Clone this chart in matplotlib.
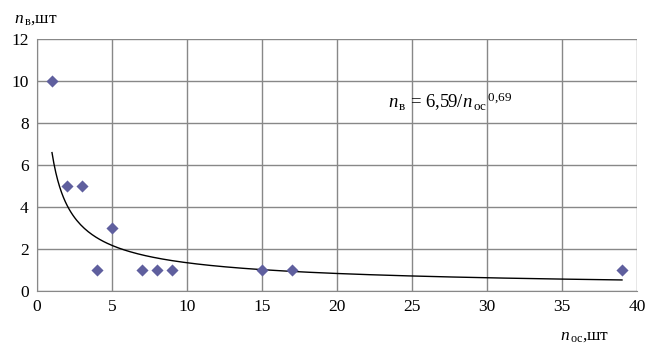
import numpy as np
import matplotlib as mpl
mpl.use('agg')
import matplotlib.pyplot as plt

# observed points
n_os = [1, 2, 3, 4, 5, 7, 8, 9, 15, 17, 39]
n_v = [10, 5, 5, 1, 3, 1, 1, 1, 1, 1, 1]

# power trendline n_v = a / n_os^b
coef_a = 6.59
coef_b = 0.69

xticks = [0, 5, 10, 15, 20, 25, 30, 35, 40]
yticks = [0, 2, 4, 6, 8, 10, 12]

plt.rcParams['font.family'] = ['Liberation Serif', 'DejaVu Serif']
plt.rcParams['mathtext.fontset'] = 'custom'
plt.rcParams['mathtext.it'] = 'Liberation Serif:italic'
plt.rcParams['mathtext.rm'] = 'Liberation Serif'

fig = plt.figure(figsize=(6.53, 3.51), dpi=100)
ax = fig.add_axes((37 / 653, 60 / 351, 600 / 653, 252 / 351))

xs = np.linspace(1, 39, 300)
ax.plot(xs, coef_a / xs ** coef_b, color='black', lw=1.0, zorder=3)
ax.scatter(n_os, n_v, marker='D', s=38, color='#5F5F9E', zorder=4, linewidths=0)

ax.set_xlim(0, 40)
ax.set_ylim(0, 12)
ax.set_xticks(xticks)
ax.set_yticks(yticks)
ax.grid(True, color='#888888', lw=1.0)
ax.set_axisbelow(True)
for side in ['top', 'right']:
    ax.spines[side].set_visible(False)
for side in ['left', 'bottom']:
    ax.spines[side].set_color('#888888')
ax.tick_params(length=0, labelsize=12.5, pad=6, colors='black')

ax.text(23.4, 8.7, r'$n_{\,\mathrm{в}}$ = 6,59/$n_{\,\mathrm{ос}}$$^{\,0{,}69}$', fontsize=13.5)
fig.text(14 / 653, 1 - 19 / 351, r'$n_{\,\mathrm{в}}$,шт', fontsize=12.5, va='center')
fig.text(560 / 653, 1 - 336 / 351, r'$n_{\,\mathrm{ос}}$,шт', fontsize=12.5, va='center')

fig.savefig('out.png', dpi=100)
